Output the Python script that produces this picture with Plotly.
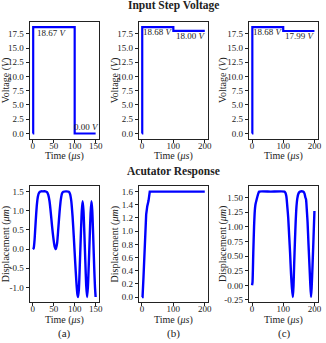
import plotly.graph_objects as go

# ---------------- data ----------------
# Input step voltage
time_va = [0, 1, 100, 150]
volt_a = [0.0, 18.67, 0.00, 0.00]
time_vb = [0, 1, 100, 200]
volt_b = [0.0, 18.68, 18.00, 18.00]
time_vc = [0, 1, 100, 200]
volt_c = [0.0, 18.68, 17.99, 17.99]

# Actuator response (displacement, um)
time_da = [0, 2, 4, 6, 8, 10, 12, 14, 17, 20, 25, 30, 34, 37, 40, 43, 46, 49, 52, 55,
           58, 61, 64, 67, 70, 73, 80, 86, 89, 92, 95, 98, 101, 104, 106.5, 108,
           110, 112, 114.5, 117, 119, 121, 123, 125.5, 127.5, 129.5, 131.5, 133.5,
           136, 138, 140, 142, 144, 146.5, 148.5, 150]
disp_a = [0.0, 0.02, 0.2, 0.55, 0.9, 1.18, 1.36, 1.45, 1.5, 1.51, 1.51, 1.51, 1.49, 1.42,
          1.25, 0.95, 0.6, 0.3, 0.08, 0.0, 0.15, 0.55, 0.98, 1.3, 1.46, 1.5, 1.51, 1.5,
          1.44, 1.25, 0.85, 0.3, -0.3, -0.85, -1.18, -1.25, -1.05, -0.5, 0.3, 1.0, 1.25,
          1.0, 0.45, -0.35, -0.95, -1.25, -1.0, -0.45, 0.35, 0.95, 1.25, 1.0, 0.4,
          -0.45, -1.0, -1.25]

time_db = [0, 2, 5, 8, 10.5, 13.5, 17, 21, 25, 200]
disp_b = [0.0, 0.0, 0.3, 0.75, 1.05, 1.25, 1.38, 1.46, 1.6, 1.6]

time_dc = [0, 1.5, 4, 6.5, 9, 11, 15, 19, 23, 60, 104, 107, 110, 113, 116, 119, 122,
           125, 128, 131, 133, 135, 137.5, 140, 142.5, 145, 149, 154, 164, 168, 171,
           173, 176, 178, 181, 184, 186.5, 189, 191, 194, 197, 200]
disp_c = [0.0, 0.05, 0.55, 1.0, 1.28, 1.38, 1.47, 1.55, 1.6, 1.6, 1.6, 1.58, 1.52,
          1.35, 1.15, 0.85, 0.55, 0.2, -0.05, -0.2, 0.0, 0.35, 0.75, 1.1, 1.35, 1.48,
          1.57, 1.6, 1.6, 1.57, 1.5, 1.47, 1.25, 1.08, 0.7, 0.35, 0.05, -0.2, -0.05,
          0.35, 0.8, 1.27]

# tick labels
volt_ticks = [0.0, 2.5, 5.0, 7.5, 10.0, 12.5, 15.0, 17.5]
disp_a_ticks = [-1.0, -0.5, 0.0, 0.5, 1.0, 1.5]
disp_b_ticks = [0.0, 0.2, 0.4, 0.6, 0.8, 1.0, 1.2, 1.4, 1.6]
disp_c_ticks = [-0.25, 0.0, 0.25, 0.5, 0.75, 1.0, 1.25, 1.5]
time_ticks_a = [0, 50, 100, 150]
time_ticks_bc = [0, 100, 200]

# ---------------- styling ----------------
W, H = 326, 343
FONT = "Liberation Serif"
BLUE = "#0000ff"
TXT = "#222"
col_px = [(30, 100), (140.5, 210.5), (252, 321.5)]
row_px = [(22, 140), (188, 305)]
col_dom = [[a / W, b / W] for a, b in col_px]
row_dom = [[1 - b / H, 1 - a / H] for a, b in row_px]

fig = go.Figure()

def fmt(v, d):
    return f"{v:.{d}f}"

def add(i, x, y, shape, width, xr, yr, xt, yt, yd, row, col):
    n = "" if i == 1 else str(i)
    line = dict(color=BLUE, width=width, shape=shape)
    if shape == "spline":
        line["smoothing"] = 0.6
    fig.add_trace(go.Scatter(x=x, y=y, mode="lines", line=line,
                             xaxis="x" + n, yaxis="y" + n, showlegend=False,
                             hoverinfo="skip"))
    common = dict(showline=True, linecolor=TXT, linewidth=1, mirror=True,
                  ticks="outside", ticklen=3, tickwidth=0.8, tickcolor=TXT,
                  showgrid=False, zeroline=False,
                  tickfont=dict(family=FONT, size=9, color=TXT))
    fig.layout["xaxis" + n] = dict(domain=col_dom[col], anchor="y" + n, range=xr,
                                    tickvals=xt, ticktext=[str(v) for v in xt],
                                    ticklabelstandoff=-5, **common)
    fig.layout["yaxis" + n] = dict(domain=row_dom[row], anchor="x" + n, range=yr,
                                    tickvals=yt, ticktext=[fmt(v, yd) for v in yt],
                                    ticklabelstandoff=0, **common)

add(1, time_va, volt_a, "hv", 2.2, [-7.5, 157.5], [-0.93, 19.6], time_ticks_a, volt_ticks, 1, 0, 0)
add(2, time_vb, volt_b, "hv", 2.2, [-10, 210], [-0.93, 19.6], time_ticks_bc, volt_ticks, 1, 0, 1)
add(3, time_vc, volt_c, "hv", 2.2, [-10, 210], [-0.93, 19.6], time_ticks_bc, volt_ticks, 1, 0, 2)
add(4, time_da, disp_a, "spline", 2.4, [-7.5, 157.5], [-1.39, 1.64], time_ticks_a, disp_a_ticks, 1, 1, 0)
add(5, time_db, disp_b, "linear", 2.4, [-10, 210], [-0.08, 1.68], time_ticks_bc, disp_b_ticks, 1, 1, 1)
add(6, time_dc, disp_c, "spline", 2.4, [-10, 210], [-0.29, 1.69], time_ticks_bc, disp_c_ticks, 2, 1, 2)

ann = []
def txt(text, x, y, xref="paper", yref="paper", size=9, bold=False, angle=0):
    ann.append(dict(text=("<b>%s</b>" % text) if bold else text, x=x, y=y, xref=xref, yref=yref,
                    showarrow=False, xanchor="center", yanchor="middle", textangle=angle,
                    font=dict(family=FONT, size=size, color=TXT)))

def px(xp, yp):
    return xp / W, 1 - yp / H

# titles
txt("Input Step Voltage", *px(175.5, 6), size=11.5, bold=True)
txt("Acutator Response", *px(175.5, 173), size=11.5, bold=True)
for lab, cx in zip(["(a)", "(b)", "(c)"], [65, 176, 288]):
    txt(lab, *px(cx, 336.5), size=11)

# axis titles
ytitle_x = [6, 116.5, 226.5]
for r, (top, bot) in enumerate(row_px):
    xy = 157 if r == 0 else 322.5
    ytxt = "Voltage (<i>V</i>)" if r == 0 else "Displacement (<i>μm</i>)"
    for c, (l, rr) in enumerate(col_px):
        txt("Time (<i>μs</i>)", *px((l + rr) / 2, xy), size=10)
        txt(ytxt, *px(ytitle_x[c], (top + bot) / 2), size=10, angle=-90)

# value labels inside the voltage plots
txt("18.67 <i>V</i>", 47, 17.6, "x", "y")
txt("0.00 <i>V</i>", 129, 1.2, "x", "y")
txt("18.68 <i>V</i>", 51, 17.75, "x2", "y2")
txt("18.00 <i>V</i>", 156, 17.05, "x2", "y2")
txt("18.68 <i>V</i>", 51, 17.75, "x3", "y3")
txt("17.99 <i>V</i>", 153, 17.05, "x3", "y3")

fig.update_layout(width=W, height=H, margin=dict(l=0, r=0, t=0, b=0),
                  paper_bgcolor="white", plot_bgcolor="white",
                  annotations=ann, font=dict(family=FONT, color=TXT))

fig.write_html("out.html", config={"displayModeBar": False},
               post_script="document.body.style.margin='0';document.body.style.padding='0';document.body.style.overflow='hidden';")
